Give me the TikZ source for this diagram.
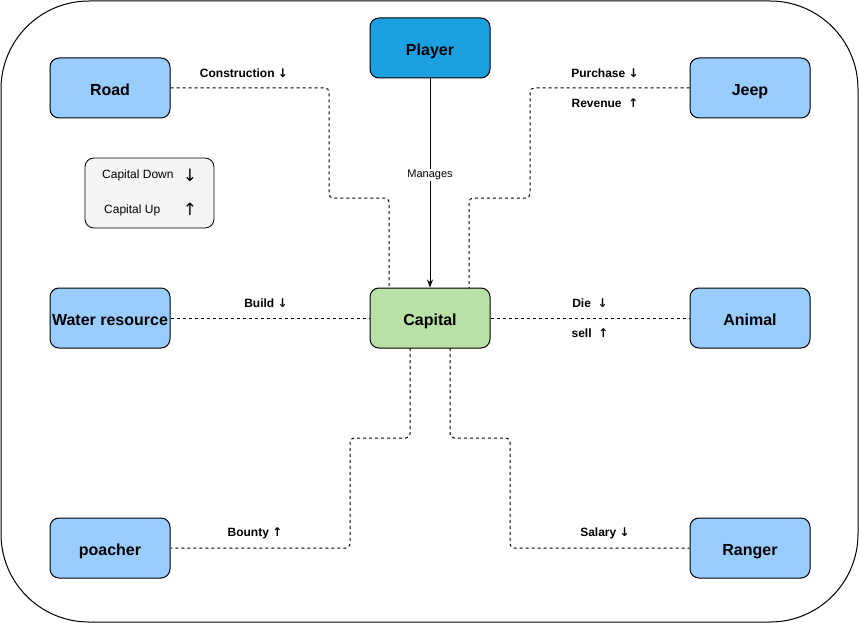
\documentclass[tikz,border=0pt]{standalone}
\usepackage{fontspec}
\setmainfont{Liberation Sans}
\newfontfamily\arrowfont{DejaVu Sans}
\usetikzlibrary{arrows.meta}
\definecolor{boxblue}{HTML}{99CCFF}
\definecolor{playerblue}{HTML}{1BA1E2}
\definecolor{capgreen}{HTML}{B9E0A5}
\definecolor{legendgray}{HTML}{F5F5F5}
\begin{document}
\begin{tikzpicture}[x=1pt,y=-1pt,
  entity/.style={draw=black, line width=1pt, rounded corners=9pt, fill=boxblue,
    minimum width=120pt, minimum height=60pt, inner sep=0pt,
    text height=14.5pt, text depth=0pt,
    font=\fontsize{16}{19}\selectfont\bfseries},
  link/.style={draw=black, line width=1pt, dash pattern=on 3pt off 3pt, rounded corners=4pt},
  elabel/.style={font=\fontsize{12}{14}\selectfont\bfseries, inner sep=0pt},
]
\useasboundingbox (0,0) rectangle (859,623);
\draw[line width=1pt, rounded corners=88pt] (1,1) rectangle (858,622);

\node[entity, fill=playerblue, draw=black] (player) at (430,48) {Player};
\node[entity] (road) at (110,88) {Road};
\node[entity] (jeep) at (750,88) {Jeep};
\node[entity, fill=capgreen] (capital) at (430,318) {Capital};
\node[entity] (water) at (110,318) {Water resource};
\node[entity] (animal) at (750,318) {Animal};
\node[entity] (poacher) at (110,548) {poacher};
\node[entity] (ranger) at (750,548) {Ranger};

\node[draw=black, line width=0.8pt, rounded corners=9pt, fill=legendgray,
  minimum width=129pt, minimum height=70pt] (legend) at (149.5,193) {};
\node[font=\fontsize{12}{14}\selectfont, anchor=west, inner sep=0pt] (ldown) at (102,175) {Capital Down};
\node[font=\fontsize{17}{20}\selectfont\arrowfont, inner sep=0pt] (ldarrow) at (190,175) {↓};
\node[font=\fontsize{12}{14}\selectfont, anchor=west, inner sep=0pt] (lup) at (104,210) {Capital Up};
\node[font=\fontsize{17}{20}\selectfont\arrowfont, inner sep=0pt] (luarrow) at (190,209) {↑};

% Player -> Capital
\draw[line width=1pt, -{Stealth[length=8pt,width=6pt]}] (player.south) -- (capital.north)
  node[pos=0.46, fill=white, inner sep=1pt, font=\fontsize{11}{13}\selectfont] {Manages};

% Road
\draw[link] (road.east) -- (329,88) -- (329,198) -- (389,198) -- (389,288);
\node[elabel] (lroad) at (244,73) {Construction {\arrowfont\fontsize{12}{14}\selectfont ↓}};
% Jeep
\draw[link] (jeep.west) -- (530,88) -- (530,198) -- (469,198) -- (469,288);
\node[elabel] (ljeep1) at (605,73) {Purchase {\arrowfont\fontsize{12}{14}\selectfont ↓}};
\node[elabel] (ljeep2) at (605,103) {Revenue \ {\arrowfont\fontsize{12}{14}\selectfont ↑}};
% Water
\draw[link] (water.east) -- (capital.west);
\node[elabel] (lwater) at (266,303) {Build {\arrowfont\fontsize{12}{14}\selectfont ↓}};
% Animal
\draw[link] (capital.east) -- (animal.west);
\node[elabel] (lanimal1) at (590,303) {Die \ {\arrowfont\fontsize{12}{14}\selectfont ↓}};
\node[elabel] (lanimal2) at (590,333) {sell \ {\arrowfont\fontsize{12}{14}\selectfont ↑}};
% Poacher
\draw[link] (410,348) -- (410,438) -- (350,438) -- (350,548) -- (poacher.east);
\node[elabel] (lpoacher) at (255,533) {Bounty {\arrowfont\fontsize{12}{14}\selectfont ↑}};
% Ranger
\draw[link] (450,348) -- (450,438) -- (510,438) -- (510,548) -- (ranger.west);
\node[elabel] (lranger) at (605,533) {Salary {\arrowfont\fontsize{12}{14}\selectfont ↓}};
\end{tikzpicture}
\end{document}
